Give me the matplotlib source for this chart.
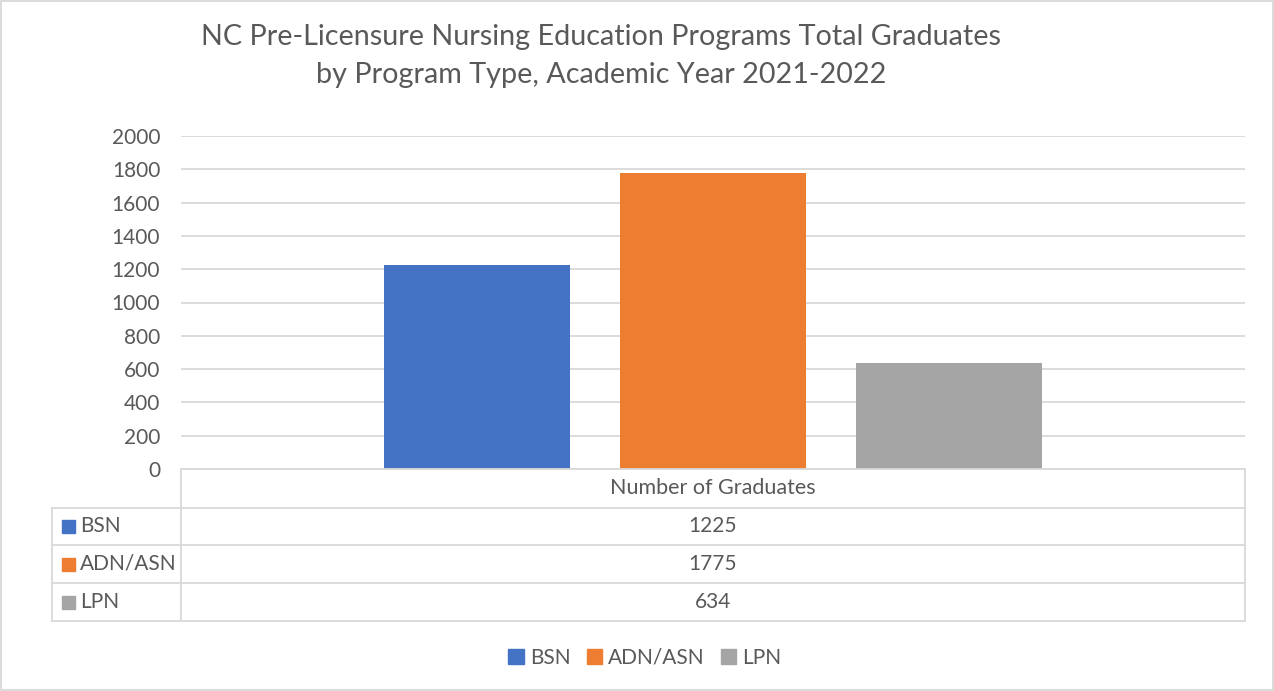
import matplotlib.pyplot as plt
from matplotlib.patches import Patch, Rectangle
from matplotlib.lines import Line2D

programs = ['BSN', 'ADN/ASN', 'LPN']
graduates = [1225, 1775, 634]
colors = ['#4472C4', '#ED7D31', '#A5A5A5']
category = 'Number of Graduates'
yticks = list(range(0, 2001, 200))
title = ('NC Pre-Licensure Nursing Education Programs Total Graduates\n'
         'by Program Type, Academic Year 2021-2022')

plt.rcParams['font.family'] = ['Lato', 'DejaVu Sans']
txt = '#595959'
grid = '#d9d9d9'
fs = 15

W, H = 1274, 691
fig = plt.figure(figsize=(W / 100, H / 100), dpi=100)


def fx(px):
    return px / W


def fy(py):
    return 1 - py / H


ax = fig.add_axes([fx(181), fy(469), fx(1245 - 181), (469 - 136) / H])
x = list(range(len(programs)))
ax.bar(x, graduates, width=0.788, color=colors, zorder=3)
ax.set_xlim(-1.254, 3.254)
ax.set_ylim(0, 2000)
ax.set_yticks(yticks)
ax.set_xticks([])
ax.grid(axis='y', color=grid, lw=1.3, zorder=0)
for s in ax.spines.values():
    s.set_visible(False)
ax.tick_params(axis='y', length=0, labelsize=fs, labelcolor=txt, pad=15)

fig.text(fx(601), fy(56), title, ha='center', va='center', fontsize=20.7,
         color=txt, linespacing=1.55)

# data table under the axis
def hline(y, x0, x1):
    fig.add_artist(Line2D([fx(x0), fx(x1)], [fy(y), fy(y)], color=grid, lw=1.3))


def vline(xp, y0, y1):
    fig.add_artist(Line2D([fx(xp), fx(xp)], [fy(y0), fy(y1)], color=grid, lw=1.3))


row_y = [469, 508, 545, 583, 621]
hline(row_y[0], 181, 1245)
for y in row_y[1:]:
    hline(y, 52, 1245)
vline(52, 508, 621)
vline(181, 469, 621)
vline(1245, 469, 621)

fig.text(fx(713), fy((row_y[0] + row_y[1]) / 2), category, ha='center',
         va='center', fontsize=fs + 0.5, color=txt)
for i, (name, val, c) in enumerate(zip(programs, graduates, colors)):
    yc = (row_y[i + 1] + row_y[i + 2]) / 2
    fig.add_artist(Rectangle((fx(62), fy(yc + 6.5)), fx(13), 13 / H,
                             color=c, transform=fig.transFigure))
    fig.text(fx(80), fy(yc), name, ha='left', va='center', fontsize=fs,
             color=txt)
    fig.text(fx(713), fy(yc), str(val), ha='center', va='center',
             fontsize=fs, color=txt)

handles = [Patch(color=c, label=p) for p, c in zip(programs, colors)]
fig.legend(handles=handles, loc='center', bbox_to_anchor=(fx(645), fy(658)),
           ncol=3, frameon=False, fontsize=fs, labelcolor=txt,
           handlelength=0.75, handleheight=0.75, handletextpad=0.3,
           columnspacing=0.75)

fig.add_artist(Rectangle((0.001, 0.001), 0.998, 0.997, fill=False,
                         edgecolor=grid, lw=1.3, transform=fig.transFigure))

fig.savefig('out.png', dpi=100)
